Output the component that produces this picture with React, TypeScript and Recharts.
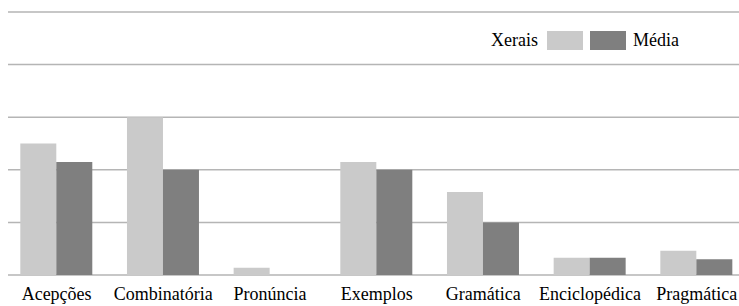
/* Xerais vs Média – grouped bars per category */
import { BarChart, Bar, XAxis, YAxis, CartesianGrid, Legend } from "recharts";

const categories = ["Acepções", "Combinatória", "Pronúncia", "Exemplos", "Gramática", "Enciclopédica", "Pragmática"];
const xerais = [2.5, 3.0, 0.14, 2.15, 1.58, 0.33, 0.46];
const media = [2.15, 2.0, 0, 2.0, 1.0, 0.33, 0.3];
const yTicks = [0, 1, 2, 3, 4, 5];

const LIGHT = "#cacaca";
const DARK = "#7f7f7f";
const FONT = "Liberation Serif";

const rows = categories.map((c, i) => ({ cat: c, xerais: xerais[i], media: media[i] }));

/* legend: text – swatch – swatch – text */
function LegendBox() {
  const sw = (color: string) => (
    <span style={{ display: "inline-block", width: 36, height: 19, background: color }} />
  );
  return (
    <div style={{ display: "flex", alignItems: "center", fontFamily: FONT, fontSize: 18, color: "#000" }}>
      <span>Xerais</span>
      <span style={{ width: 9 }} />
      {sw(LIGHT)}
      <span style={{ width: 7 }} />
      {sw(DARK)}
      <span style={{ width: 7 }} />
      <span>Média</span>
    </div>
  );
}

export default function App() {
  return (
    <div style={{ position: "absolute", left: 0, top: 0, width: 739, height: 306, overflow: "hidden", background: "#fff" }}>
      <BarChart
        width={739}
        height={306}
        data={rows}
        margin={{ top: 12, right: 0, left: 8, bottom: 0 }}
        barGap={0}
        barSize={36}
      >
        <CartesianGrid vertical={false} stroke="#b5b5b5" strokeWidth={1.5} />
        <XAxis
          dataKey="cat"
          height={31}
          axisLine={false}
          tickLine={false}
          tickMargin={6}
          interval={0}
          padding={{ left: -4.7, right: -11 }}
          tick={{ fontFamily: FONT, fontSize: 18, fill: "#000" }}
        />
        <YAxis hide domain={[0, 5]} ticks={yTicks} />
        <Legend
          content={<LegendBox />}
          layout="horizontal"
          verticalAlign="middle"
          align="center"
          wrapperStyle={{ position: "absolute", top: 30, left: 491, width: "auto", height: "auto" }}
        />
        <Bar dataKey="xerais" name="Xerais" fill={LIGHT} isAnimationActive={false} />
        <Bar dataKey="media" name="Média" fill={DARK} isAnimationActive={false} />
      </BarChart>
    </div>
  );
}
